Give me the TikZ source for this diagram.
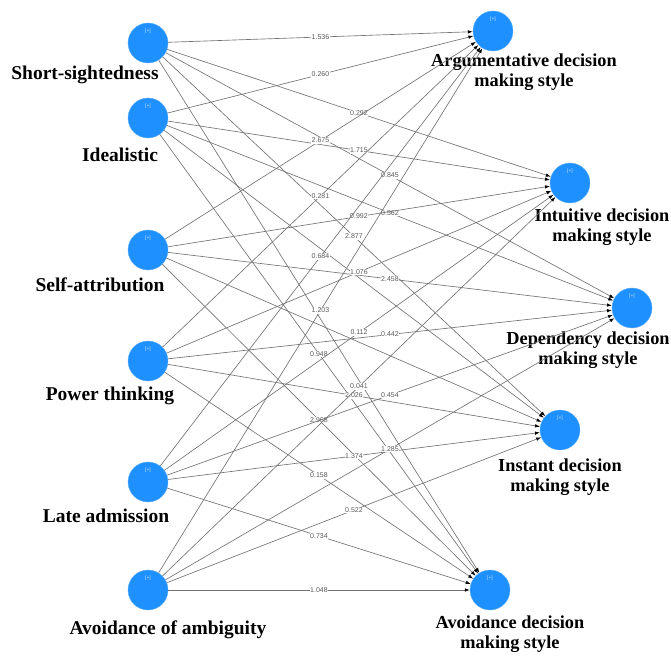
\documentclass[tikz,border=0pt]{standalone}
\usepackage{fontspec}
\setmainfont{Liberation Serif}
\newfontfamily\coeffont{Liberation Sans}
\usetikzlibrary{arrows.meta,positioning}
\definecolor{lvblue}{RGB}{30,144,255}
\definecolor{pathgray}{RGB}{115,115,115}

\begin{document}
\begin{tikzpicture}[x=1pt,y=-1pt,
    lv/.style={circle,fill=lvblue,draw=lvblue!70,line width=0.4pt,minimum size=40pt,inner sep=0pt,
      label={[anchor=north,yshift=-3pt,text=lvblue!25,font=\coeffont\fontsize{5}{5}\selectfont]north:{[+]}}},
    lvname/.style={font=\bfseries\fontsize{18.3}{20}\selectfont,align=center,inner sep=0pt},
    lvleft/.style={lvname,font=\bfseries\fontsize{19.5}{20}\selectfont,anchor=base},
    pathline/.style={draw=pathgray,line width=0.65pt,-{Latex[length=5pt,width=3.5pt,black]}},
    coef/.style={font=\coeffont\fontsize{7}{7}\selectfont,text=black!65,fill=white,inner sep=0.6pt}]
        \useasboundingbox (0,0) rectangle (671,655);
        % exogenous constructs
        \node[lv] (l1) at (148,43) {};
        \node[lv] (l2) at (148,118) {};
        \node[lv] (l3) at (148,250) {};
        \node[lv] (l4) at (148,361) {};
        \node[lv] (l5) at (148,482) {};
        \node[lv] (l6) at (148,590) {};
        \node[lvleft] (t1) at (85,80) {Short-sightedness};
        \node[lvleft] (t2) at (120,161) {Idealistic};
        \node[lvleft] (t3) at (100,291) {Self-attribution};
        \node[lvleft] (t4) at (110,400) {Power thinking};
        \node[lvleft] (t5) at (106,522) {Late admission};
        \node[lvleft] (t6) at (168,634) {Avoidance of ambiguity};
        % decision making styles
        \node[lv] (r1) at (493,31) {};
        \node[lv] (r2) at (570,183) {};
        \node[lv] (r3) at (632,308) {};
        \node[lv] (r4) at (560,430) {};
        \node[lv] (r5) at (490,590) {};
        \node[lvname] (s1) at (524,72.5) {Argumentative decision\\making style};
        \node[lvname] (s2) at (602,227.5) {Intuitive decision\\making style};
        \node[lvname] (s3) at (588,350.5) {Dependency decision\\making style};
        \node[lvname] (s4) at (560,477.5) {Instant decision\\making style};
        \node[lvname] (s5) at (510,634.5) {Avoidance decision\\making style};
        % paths
        \draw[pathline] (l1) -- node[coef] {1.536} (r1);
        \draw[pathline] (l1) -- node[coef] {0.292} (r2);
        \draw[pathline] (l1) -- node[coef] {0.845} (r3);
        \draw[pathline] (l1) -- node[coef] {2.877} (r4);
        \draw[pathline] (l1) -- (r5);
        \draw[pathline] (l2) -- node[coef] {0.260} (r1);
        \draw[pathline] (l2) -- node[coef] {1.715} (r2);
        \draw[pathline] (l2) -- node[coef] {0.562} (r3);
        \draw[pathline] (l2) -- (r4);
        \draw[pathline] (l2) -- node[coef] {0.948} (r5);
        \draw[pathline] (l3) -- node[coef] {2.675} (r1);
        \draw[pathline] (l3) -- node[coef] {0.992} (r2);
        \draw[pathline] (l3) -- node[coef] {2.458} (r3);
        \draw[pathline] (l3) -- (r4);
        \draw[pathline] (l3) -- node[coef] {2.968} (r5);
        \draw[pathline] (l4) -- node[coef] {0.281} (r1);
        \draw[pathline] (l4) -- node[coef] {1.076} (r2);
        \draw[pathline] (l4) -- node[coef] {0.442} (r3);
        \draw[pathline] (l4) -- node[coef] {2.026} (r4);
        \draw[pathline] (l4) -- node[coef] {0.158} (r5);
        \draw[pathline] (l5) -- node[coef] {0.684} (r1);
        \draw[pathline] (l5) -- node[coef] {0.112} (r2);
        \draw[pathline] (l5) -- node[coef] {0.454} (r3);
        \draw[pathline] (l5) -- node[coef] {1.374} (r4);
        \draw[pathline] (l5) -- node[coef] {0.734} (r5);
        \draw[pathline] (l6) -- node[coef] {1.203} (r1);
        \draw[pathline] (l6) -- node[coef] {0.041} (r2);
        \draw[pathline] (l6) -- node[coef] {1.285} (r3);
        \draw[pathline] (l6) -- node[coef] {0.522} (r4);
        \draw[pathline] (l6) -- node[coef] {1.048} (r5);
      \end{tikzpicture}
\end{document}
